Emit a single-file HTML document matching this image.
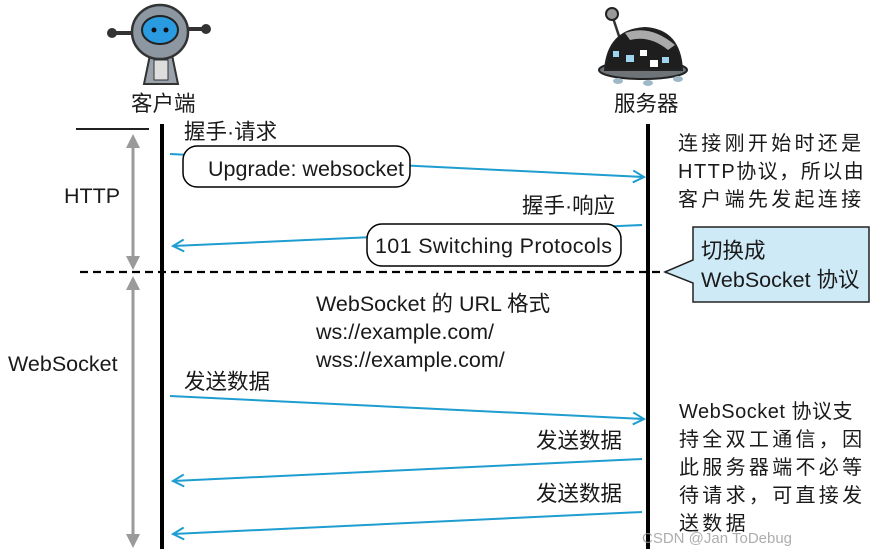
<!DOCTYPE html>
<html><head><meta charset="utf-8"><style>
html,body{margin:0;padding:0;background:#fff;}
svg{display:block;}
text{font-family:"Liberation Sans","Noto Sans CJK SC",sans-serif;fill:#1a1a1a;font-size:21.5px;}
.n{font-size:20px;}
</style></head><body>
<svg width="878" height="552" viewBox="0 0 878 552" xmlns="http://www.w3.org/2000/svg">
<defs>
<marker id="ah" markerWidth="14" markerHeight="14" refX="12" refY="7" orient="auto" markerUnits="userSpaceOnUse">
<path d="M1,1 L12,7 L1,13" fill="none" stroke="#1e9dd0" stroke-width="2"/>
</marker>
</defs>
<g>
<line x1="112" y1="33" x2="135" y2="33" stroke="#333" stroke-width="4"/>
<circle cx="112" cy="33" r="5" fill="#333"/>
<line x1="185" y1="29" x2="205" y2="29" stroke="#333" stroke-width="4"/>
<circle cx="206" cy="29" r="5" fill="#333"/>
<path d="M150,55 L144,84 L178,84 L172,55Z" fill="#9aa3ab" stroke="#333" stroke-width="2"/>
<rect x="154" y="60" width="14" height="20" fill="#ddd" stroke="#333"/>
<ellipse cx="160" cy="32" rx="28" ry="27" fill="#8c97a2" stroke="#333" stroke-width="2.5"/>
<ellipse cx="160" cy="30" rx="18" ry="14" fill="#2a9be0" stroke="#222" stroke-width="2"/>
<circle cx="154" cy="30" r="2.5" fill="#111"/><circle cx="166" cy="30" r="2.5" fill="#111"/>
</g>
<text x="131" y="111">客户端</text>
<g>
<line x1="612" y1="15" x2="622" y2="45" stroke="#333" stroke-width="2.5"/>
<circle cx="612" cy="14" r="6" fill="#999" stroke="#222" stroke-width="2"/>
<ellipse cx="643" cy="70" rx="44" ry="9" fill="#6e7378" stroke="#222" stroke-width="2"/>
<path d="M605,70 Q608,30 645,28 Q680,30 682,70Z" fill="#1e1e1e" stroke="#222" stroke-width="2"/>
<path d="M625,33 Q650,24 675,45 L668,50 Q650,35 630,40Z" fill="#aaa"/>
<rect x="613" y="51" width="6" height="6" fill="#9fd3ee"/><rect x="626" y="55" width="8" height="7" fill="#9fd3ee"/>
<rect x="640" y="50" width="7" height="6" fill="#fff"/><rect x="650" y="60" width="8" height="7" fill="#fff"/>
<rect x="662" y="57" width="7" height="6" fill="#9fd3ee"/>
<ellipse cx="618" cy="81" rx="5" ry="3" fill="#9fb8c8"/><ellipse cx="648" cy="83" rx="5" ry="3" fill="#9fb8c8"/><ellipse cx="678" cy="79" rx="5" ry="3" fill="#9fb8c8"/>
</g>
<text x="614" y="111">服务器</text>
<line x1="162" y1="124" x2="162" y2="549" stroke="#000" stroke-width="4"/>
<line x1="648" y1="124" x2="648" y2="549" stroke="#000" stroke-width="4"/>
<line x1="76" y1="129" x2="149" y2="129" stroke="#000" stroke-width="1.8"/>
<g stroke="#9a9a9a" stroke-width="3" fill="#9a9a9a">
<line x1="133" y1="145" x2="133" y2="258"/>
<path d="M126,148 L133,134 L140,148Z" stroke="none"/>
<path d="M126,256 L133,270 L140,256Z" stroke="none"/>
<line x1="133" y1="288" x2="133" y2="536"/>
<path d="M126,290 L133,276 L140,290Z" stroke="none"/>
<path d="M126,534 L133,548 L140,534Z" stroke="none"/>
</g>
<text x="64" y="203">HTTP</text>
<text x="8" y="371">WebSocket</text>
<line x1="80" y1="272" x2="690" y2="272" stroke="#000" stroke-width="2.2" stroke-dasharray="8,5"/>
<g stroke="#1e9dd0" stroke-width="2" fill="none" marker-end="url(#ah)">
<path d="M170,154 L644,177"/>
<path d="M642,225 L173,246"/>
<path d="M170,396 L644,419"/>
<path d="M642,459 L173,481"/>
<path d="M642,512 L173,534"/>
</g>
<text x="184" y="139">握手·请求</text>
<rect x="183" y="146" width="227" height="41" rx="14" fill="#fff" stroke="#000" stroke-width="1.5"/>
<text x="208" y="176">Upgrade: websocket</text>
<text x="522" y="213">握手·响应</text>
<rect x="367" y="224" width="254" height="42" rx="15" fill="#fff" stroke="#000" stroke-width="1.5"/>
<text x="375" y="253" textLength="237">101 Switching Protocols</text>
<path d="M693,227 L869,227 L869,302 L693,302 L693,283 L665,272 L693,260Z" fill="#cfeaf7" stroke="#222" stroke-width="1.5"/>
<text x="701" y="258">切换成</text>
<text x="701" y="287">WebSocket 协议</text>
<g style="letter-spacing:3.3px">
<text class="n" x="678" y="150">连接刚开始时还是</text>
<text class="n" x="678" y="178" style="letter-spacing:1.5px">HTTP协议，所以由</text>
<text class="n" x="678" y="206">客户端先发起连接</text>
</g>
<text x="316" y="311">WebSocket 的 URL 格式</text>
<text x="316" y="339">ws://example.com/</text>
<text x="316" y="367">wss://example.com/</text>
<text x="184" y="389">发送数据</text>
<text x="536" y="448">发送数据</text>
<text x="536" y="501">发送数据</text>
<g style="letter-spacing:3.3px">
<text class="n" x="679" y="418" style="letter-spacing:0.5px">WebSocket 协议支</text>
<text class="n" x="679" y="446">持全双工通信，因</text>
<text class="n" x="679" y="474">此服务器端不必等</text>
<text class="n" x="679" y="502">待请求，可直接发</text>
<text class="n" x="679" y="530">送数据</text>
</g>
<text x="642" y="543" style="font-size:15px;fill:#999;opacity:0.8">CSDN @Jan ToDebug</text>
</svg>
</body></html>
